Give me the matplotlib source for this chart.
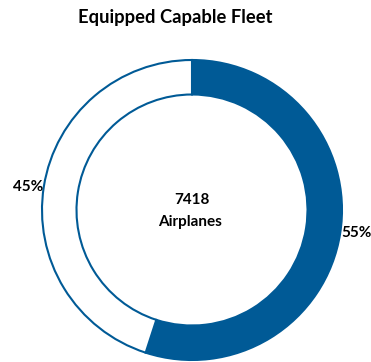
import matplotlib
matplotlib.use('Agg')
import matplotlib.pyplot as plt
import numpy as np

# datos
etiquetas = ['Equipped', 'Not equipped']
valores = [55, 45]
total_aviones = 7418
titulo = 'Equipped Capable Fleet'

azul = '#005a96'
plt.rcParams['font.family'] = ['Lato', 'DejaVu Sans']

fig = plt.figure(figsize=(3.71, 3.62), dpi=100)
ax = fig.add_axes([0, 0, 1, 1])

cx, cy, r = 192, 152, 150
wedges, _ = ax.pie(valores, center=(cx, cy), radius=r, startangle=90,
                   counterclock=False, colors=[azul, 'white'],
                   wedgeprops=dict(width=r * 0.23, edgecolor=azul, linewidth=1.5),
                   frame=True)
ax.set_xlim(0, 371)
ax.set_ylim(0, 362)
ax.set_aspect('equal')
ax.axis('off')

# etiquetas de porcentaje junto al anillo
for w, v in zip(wedges, valores):
    ang = np.deg2rad((w.theta1 + w.theta2) / 2)
    x = cx + (r + 1) * np.cos(ang)
    y = cy + r * np.sin(ang)
    ha = 'left' if np.cos(ang) > 0 else 'right'
    ax.text(x, y, f'{v}%', ha=ha, va='center', fontsize=11, fontweight='bold')

ax.text(cx, cy + 10, str(total_aviones), ha='center', va='center',
        fontsize=11, fontweight='bold')
ax.text(cx - 2, cy - 12, 'Airplanes', ha='center', va='center',
        fontsize=11, fontweight='bold')
ax.text(175, 345, titulo, ha='center', va='center', fontsize=13.2, fontweight='bold')

fig.savefig('out.png', dpi=100)
